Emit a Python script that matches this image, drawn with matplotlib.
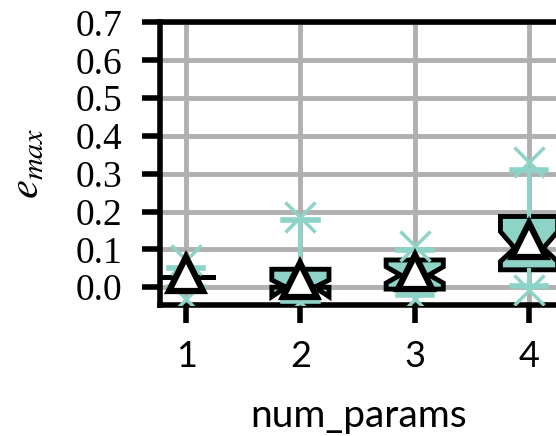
import matplotlib
matplotlib.use('Agg')
import matplotlib.pyplot as plt

# Values
num_params = [1, 2, 3, 4]
medians = [0.028, 0.0, 0.0325, 0.103]
q1s = [0.028, 0.0, -0.005, 0.046]
q3s = [0.028, 0.0475, 0.072, 0.187]
ci_lo = [0.028, -0.025, 0.011, 0.068]
ci_hi = [0.028, 0.019, 0.054, 0.147]
whisk_lo = [0.0, -0.036, -0.02, 0.002]
whisk_hi = [0.05, 0.178, 0.099, 0.31]
means = [0.035, 0.019, 0.041, 0.125]
fliers = [[-0.032, 0.072], [-0.04, 0.186], [-0.03, 0.11], [-0.008, 0.33]]
y_ticks = [0.0, 0.1, 0.2, 0.3, 0.4, 0.5, 0.6, 0.7]

TEAL = '#8dd3c7'


def build_stats():
    stats = []
    for i in range(len(num_params)):
        stats.append({
            'med': medians[i], 'q1': q1s[i], 'q3': q3s[i],
            'cilo': ci_lo[i], 'cihi': ci_hi[i],
            'whislo': whisk_lo[i], 'whishi': whisk_hi[i],
            'mean': means[i], 'fliers': fliers[i],
        })
    return stats


def main():
    plt.rcParams['mathtext.fontset'] = 'stix'
    fig = plt.figure(figsize=(5.56, 4.36), dpi=100)
    ax = fig.add_axes([0.287, 0.3005, 0.7167, 0.648])

    ax.bxp(build_stats(), positions=num_params, widths=0.5, capwidths=0.3,
           shownotches=True, showmeans=True, patch_artist=True, zorder=3,
           boxprops=dict(facecolor=TEAL, edgecolor='black', linewidth=3.5),
           medianprops=dict(color='black', linewidth=3.5),
           whiskerprops=dict(color=TEAL, linewidth=3),
           capprops=dict(color=TEAL, linewidth=4),
           flierprops=dict(marker='x', markeredgecolor=TEAL, markersize=21,
                           markeredgewidth=2.5),
           meanprops=dict(marker='^', markerfacecolor='white',
                          markeredgecolor='black', markersize=25,
                          markeredgewidth=4.5))

    ax.set_xlim(0.768, 4.254)
    ax.set_ylim(-0.047, 0.7)
    ax.set_yticks(y_ticks)
    ax.set_yticklabels(['%.1f' % v for v in y_ticks], family='Liberation Serif', fontsize=27)
    ax.set_xticks(num_params)
    ax.set_xticklabels([str(v) for v in num_params], family='Lato', fontsize=26)

    ax.grid(True, color='#b0b0b0', linewidth=3.5, zorder=0)
    ax.set_axisbelow(True)
    for s in ax.spines.values():
        s.set_linewidth(4)
    ax.spines['right'].set_visible(False)
    ax.tick_params(axis='both', length=13, width=4, direction='out')
    ax.tick_params(axis='x', pad=12)
    ax.tick_params(axis='y', pad=14)

    ax.set_xlabel('num_params', family='Lato', fontsize=28, labelpad=18)
    ax.set_ylabel('$e_{max}$', fontsize=31, labelpad=20)

    fig.savefig('out.png', dpi=100)


if __name__ == '__main__':
    main()
